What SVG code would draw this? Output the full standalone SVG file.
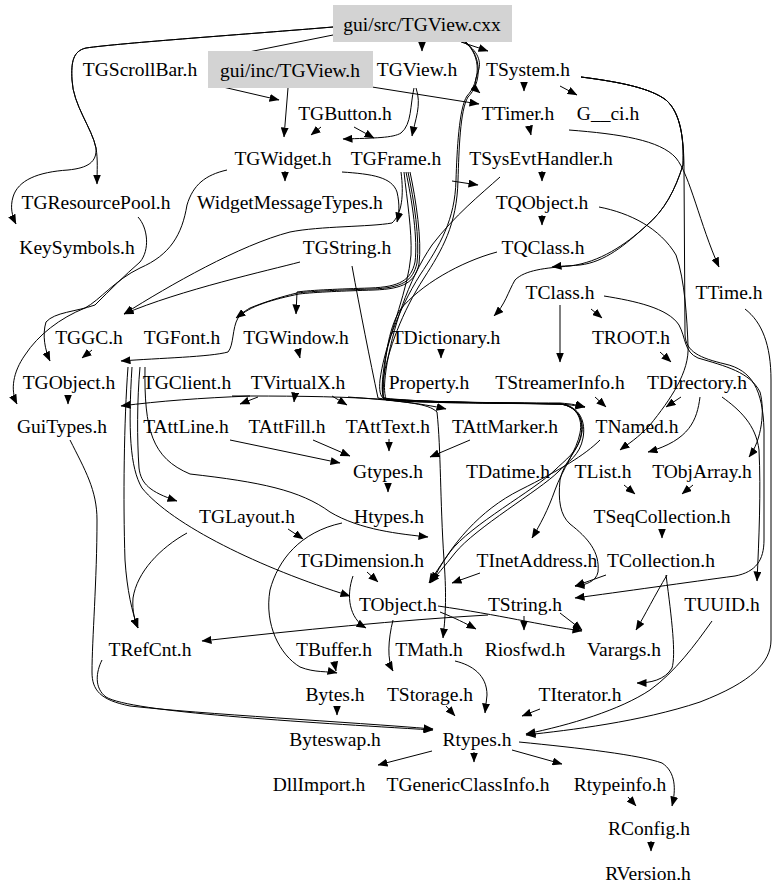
<svg xmlns="http://www.w3.org/2000/svg" width="779" height="895" viewBox="0 0 779 895">
<style>
text{font-family:"Liberation Serif","Times New Roman",serif;font-size:19.5px;fill:#000;text-anchor:middle}
.e path{fill:none;stroke:#000;stroke-width:1;marker-end:url(#ah)}
.box{fill:#d3d3d3;stroke:none}
</style>
<defs>
<marker id="ah" markerWidth="10" markerHeight="8" refX="9.5" refY="4" orient="auto" markerUnits="userSpaceOnUse"><path d="M0,0 L10,4 L0,8 z" fill="#000"/></marker>
</defs>
<rect width="779" height="895" fill="#fff"/>
<g class="e" id="edges">
<path d="M333,27 C250,34 120,43 86,48 C73,51 71,62 72,80 C73,105 92,128 96,148 C98,160 97,170 97,184"/>
<path d="M333,27 C250,34 120,43 86,48 C73,51 71,62 72,80 C73,105 92,128 96,148 C97,162 88,168 68,170 C38,172 18,180 13,197 C10,207 12,216 16,224"/>
<path d="M333,35 L209,60"/>
<path d="M422,42 L422,51"/>
<path d="M461,42 L488,51"/>
<path d="M463,42 C478,50 482,62 478,72 C474,82 474,88 480,93"/>
<path d="M465,42 C482,56 480,82 467,96 C459,108 457,150 456,180 C455,220 440,245 420,275 C398,310 384,350 380,380 C379,390 380,396 384,399 C405,403 428,403 437,412 C441,450 440,500 444,560 C447,600 445,620 443,638"/>
<path d="M466,42 C483,58 481,84 468,97 C460,110 459,150 458,180 C457,225 442,250 424,278 C402,312 388,350 383,380 C382,390 382,396 386,400 C420,403 470,403 520,403 L560,404 C576,406 584,418 582,432 C580,450 563,462 560,480 C558,500 560,515 570,524 C588,538 600,552 598,572 C596,582 585,585 575,586"/>
<path d="M210,84 L279,100"/>
<path d="M288,88 L284,137"/>
<path d="M372,87 L479,104"/>
<path d="M321,127 L311,135"/>
<path d="M354,127 L374,138"/>
<path d="M414,88 C410,105 412,124 401,133 C393,138 375,138 343,139"/>
<path d="M416,88 C422,105 415,120 412,136"/>
<path d="M524,82 L524,91"/>
<path d="M560,86 L577,95"/>
<path d="M529,126 L531,135"/>
<path d="M569,130 C620,134 660,140 676,158 C690,175 700,225 719,267"/>
<path d="M542,171 L542,181"/>
<path d="M542,215 L542,225"/>
<path d="M285,171 L285,181"/>
<path d="M452,181 L478,185"/>
<path d="M342,172 C372,174 392,177 397,192 C400,205 399,214 397,222"/>
<path d="M581,77 C620,82 650,88 666,100 C681,113 684,140 684,170 L685,335 C686,352 700,358 725,364 C752,370 763,390 764,430 L764,540 C764,560 756,572 735,576 C690,582 620,592 575,598"/>
<path d="M581,77 C620,82 650,88 666,100 C681,113 684,140 683,165 C675,190 665,210 646,226 C625,245 605,262 580,265 C568,266 560,266 552,267"/>
<path d="M581,77 C620,82 650,88 666,100 C681,113 684,140 683,165 C675,190 665,210 646,226 C625,245 600,262 570,266 C545,268 525,270 515,280 C508,292 505,305 494,316"/>
<path d="M599,207 C630,213 660,228 676,255 C685,280 687,320 688,345 C690,372 670,400 650,425 C638,438 628,444 620,450"/>
<path d="M604,296 C635,301 668,308 679,325 C686,338 684,352 698,358 C725,366 750,372 760,392 C765,410 762,440 749,457"/>
<path d="M591,309 L602,318"/>
<path d="M560,305 L560,362"/>
<path d="M660,352 L671,362"/>
<path d="M595,397 L606,407"/>
<path d="M681,397 L666,407"/>
<path d="M700,397 C697,420 690,440 648,452"/>
<path d="M722,397 C740,410 756,425 759,450 C761,490 759,540 757,581"/>
<path d="M745,309 C762,322 771,345 771,380 L771,640 C771,662 752,682 700,702 C640,722 570,730 526,735"/>
<path d="M441,350 L441,358"/>
<path d="M300,262 C270,270 180,290 124,314"/>
<path d="M401,172 C404,195 402,214 392,223 C370,227 320,226 290,232 C240,245 170,285 124,314"/>
<path d="M406,172 C412,200 418,240 415,262 C411,280 400,287 370,288 C340,289 312,290 297,292 L296,314"/>
<path d="M408,172 C414,200 420,240 417,263 C413,281 402,288 372,289 C342,290 314,291 297,293 C280,297 262,303 250,308 C243,312 240,315 236,318"/>
<path d="M410,172 C416,200 422,240 419,264 C415,282 404,289 374,290 C344,291 316,292 299,294 C275,299 248,306 238,318 C232,328 234,345 228,352 C210,357 160,358 121,361"/>
<path d="M92,350 L82,358"/>
<path d="M298,350 L300,358"/>
<path d="M138,217 C148,228 150,250 140,262 C125,275 110,290 95,305 C75,312 55,312 46,322 C42,335 45,350 50,361"/>
<path d="M227,170 C205,175 193,185 187,205 C182,235 170,255 140,268 C115,280 100,300 85,308 C60,318 38,335 25,355 C13,372 10,390 17,404"/>
<path d="M68,395 L68,404"/>
<path d="M250,396 C200,398 160,401 121,406"/>
<path d="M258,397 L240,404"/>
<path d="M295,394 L294,402"/>
<path d="M332,396 L347,405"/>
<path d="M348,397 C390,400 420,403 446,409"/>
<path d="M232,396 C280,396 330,396 378,399 C420,402 500,403 560,403 C572,404 578,405 585,407"/>
<path d="M352,266 C360,310 370,360 378,398 C400,403 470,403 560,404 C578,406 584,420 581,435 C578,452 565,460 555,470 C535,490 470,525 450,552 C440,566 434,575 429,583"/>
<path d="M497,252 C460,262 420,285 400,310 C388,330 384,360 383,398 C420,402 480,403 560,404 C576,406 583,418 580,433 C577,450 562,470 555,490 C548,510 540,525 532,538"/>
<path d="M500,177 C480,195 455,215 432,245 C408,280 392,330 386,370 C384,385 384,392 386,399 C430,402 500,403 560,404 C572,405 578,406 585,407"/>
<path d="M404,172 C407,200 412,230 411,255 C408,290 390,330 385,360 C382,380 381,392 384,399 C440,403 520,403 562,404 C580,407 586,422 583,438 C580,455 568,462 558,472 C540,490 475,528 455,553 C444,567 436,576 430,583"/>
<path d="M140,367 C137,400 137,440 139,468 C141,484 150,492 177,501"/>
<path d="M128,367 C124,420 123,500 125,560 C127,590 132,612 138,628"/>
<path d="M132,367 C128,430 130,468 142,488 C172,525 260,568 350,596"/>
<path d="M145,367 C144,430 152,458 190,474 C260,482 300,490 330,512 C360,530 400,534 428,537"/>
<path d="M288,529 L303,539"/>
<path d="M187,533 C160,548 137,572 133,598 C132,612 135,621 138,628"/>
<path d="M70,440 C85,470 97,490 97,520 C97,580 92,640 92,672 C92,690 100,700 130,706 C200,714 350,722 433,729"/>
<path d="M102,660 C96,672 94,688 106,697 C130,712 300,722 433,730"/>
<path d="M488,615 C400,620 300,630 202,641"/>
<path d="M388,483 L388,492"/>
<path d="M230,440 L340,463"/>
<path d="M313,440 L350,456"/>
<path d="M389,439 L389,451"/>
<path d="M470,440 L430,457"/>
<path d="M342,523 C300,532 278,560 270,590 C264,625 280,655 300,667 C315,673 328,671 337,673"/>
<path d="M367,572 L378,582"/>
<path d="M353,576 C346,596 349,618 366,628"/>
<path d="M393,620 C388,640 387,660 393,671"/>
<path d="M438,606 C500,615 540,625 582,631"/>
<path d="M560,613 L582,630"/>
<path d="M524,616 L524,630"/>
<path d="M440,612 C455,618 465,623 476,629"/>
<path d="M334,661 L336,671"/>
<path d="M337,706 L337,715"/>
<path d="M446,706 L455,716"/>
<path d="M455,661 C472,665 487,675 487,695 L485,713"/>
<path d="M540,709 L522,716"/>
<path d="M432,751 L378,765"/>
<path d="M474,752 L474,762"/>
<path d="M512,750 L562,764"/>
<path d="M519,742 C580,748 640,755 662,763 C676,772 676,790 672,806"/>
<path d="M628,797 L636,806"/>
<path d="M651,841 L651,851"/>
<path d="M667,575 C655,595 645,615 636,630"/>
<path d="M666,575 C672,620 676,655 672,668 C665,680 650,683 637,683"/>
<path d="M606,575 L575,586"/>
<path d="M662,529 L662,538"/>
<path d="M624,485 L635,494"/>
<path d="M693,485 L682,494"/>
<path d="M712,621 C695,645 675,672 650,690 C620,710 570,725 526,734"/>
<path d="M600,440 C585,455 560,470 520,490 C480,510 450,545 432,582"/>
<path d="M480,573 L452,583"/>
</g>
<g id="n_cxx"><rect class="box" x="333" y="5" width="179" height="37"/><text x="422" y="31">gui/src/TGView.cxx</text></g>
<g id="n_TGScrollBar"><text x="140" y="76">TGScrollBar.h</text></g>
<g id="n_incTGView"><rect class="box" x="208" y="51" width="165" height="37"/><text x="290" y="77">gui/inc/TGView.h</text></g>
<g id="n_TGView"><text x="417" y="76">TGView.h</text></g>
<g id="n_TSystem"><text x="528" y="76">TSystem.h</text></g>
<g id="n_TGButton"><text x="345" y="120">TGButton.h</text></g>
<g id="n_TTimer"><text x="518" y="120">TTimer.h</text></g>
<g id="n_Gci"><text x="608" y="120">G__ci.h</text></g>
<g id="n_TGWidget"><text x="283" y="165">TGWidget.h</text></g>
<g id="n_TGFrame"><text x="396" y="165">TGFrame.h</text></g>
<g id="n_TSysEvtHandler"><text x="541" y="165">TSysEvtHandler.h</text></g>
<g id="n_TGResourcePool"><text x="96" y="209">TGResourcePool.h</text></g>
<g id="n_WidgetMessageTypes"><text x="290" y="209">WidgetMessageTypes.h</text></g>
<g id="n_TQObject"><text x="542" y="209">TQObject.h</text></g>
<g id="n_KeySymbols"><text x="77" y="254">KeySymbols.h</text></g>
<g id="n_TGString"><text x="347" y="254">TGString.h</text></g>
<g id="n_TQClass"><text x="543" y="254">TQClass.h</text></g>
<g id="n_TClass"><text x="560" y="299">TClass.h</text></g>
<g id="n_TTime"><text x="729" y="299">TTime.h</text></g>
<g id="n_TGGC"><text x="89" y="344">TGGC.h</text></g>
<g id="n_TGFont"><text x="182" y="344">TGFont.h</text></g>
<g id="n_TGWindow"><text x="296" y="344">TGWindow.h</text></g>
<g id="n_TDictionary"><text x="446" y="344">TDictionary.h</text></g>
<g id="n_TROOT"><text x="631" y="344">TROOT.h</text></g>
<g id="n_TGObject"><text x="69" y="389">TGObject.h</text></g>
<g id="n_TGClient"><text x="187" y="389">TGClient.h</text></g>
<g id="n_TVirtualX"><text x="298" y="389">TVirtualX.h</text></g>
<g id="n_Property"><text x="429" y="389">Property.h</text></g>
<g id="n_TStreamerInfo"><text x="560" y="389">TStreamerInfo.h</text></g>
<g id="n_TDirectory"><text x="697" y="389">TDirectory.h</text></g>
<g id="n_GuiTypes"><text x="62" y="433">GuiTypes.h</text></g>
<g id="n_TAttLine"><text x="186" y="433">TAttLine.h</text></g>
<g id="n_TAttFill"><text x="287" y="433">TAttFill.h</text></g>
<g id="n_TAttText"><text x="388" y="433">TAttText.h</text></g>
<g id="n_TAttMarker"><text x="505" y="433">TAttMarker.h</text></g>
<g id="n_TNamed"><text x="637" y="433">TNamed.h</text></g>
<g id="n_Gtypes"><text x="388" y="478">Gtypes.h</text></g>
<g id="n_TDatime"><text x="508" y="478">TDatime.h</text></g>
<g id="n_TList"><text x="603" y="478">TList.h</text></g>
<g id="n_TObjArray"><text x="702" y="478">TObjArray.h</text></g>
<g id="n_TGLayout"><text x="247" y="523">TGLayout.h</text></g>
<g id="n_Htypes"><text x="389" y="523">Htypes.h</text></g>
<g id="n_TSeqCollection"><text x="662" y="523">TSeqCollection.h</text></g>
<g id="n_TGDimension"><text x="361" y="567">TGDimension.h</text></g>
<g id="n_TInetAddress"><text x="537" y="567">TInetAddress.h</text></g>
<g id="n_TCollection"><text x="661" y="567">TCollection.h</text></g>
<g id="n_TObject"><text x="398" y="611">TObject.h</text></g>
<g id="n_TString"><text x="525" y="611">TString.h</text></g>
<g id="n_TUUID"><text x="722" y="611">TUUID.h</text></g>
<g id="n_TRefCnt"><text x="150" y="656">TRefCnt.h</text></g>
<g id="n_TBuffer"><text x="334" y="656">TBuffer.h</text></g>
<g id="n_TMath"><text x="429" y="656">TMath.h</text></g>
<g id="n_Riosfwd"><text x="525" y="656">Riosfwd.h</text></g>
<g id="n_Varargs"><text x="624" y="656">Varargs.h</text></g>
<g id="n_Bytes"><text x="335" y="701">Bytes.h</text></g>
<g id="n_TStorage"><text x="430" y="701">TStorage.h</text></g>
<g id="n_TIterator"><text x="580" y="701">TIterator.h</text></g>
<g id="n_Byteswap"><text x="335" y="746">Byteswap.h</text></g>
<g id="n_Rtypes"><text x="477" y="746">Rtypes.h</text></g>
<g id="n_DllImport"><text x="319" y="791">DllImport.h</text></g>
<g id="n_TGenericClassInfo"><text x="468" y="791">TGenericClassInfo.h</text></g>
<g id="n_Rtypeinfo"><text x="620" y="791">Rtypeinfo.h</text></g>
<g id="n_RConfig"><text x="649" y="835">RConfig.h</text></g>
<g id="n_RVersion"><text x="648" y="880">RVersion.h</text></g>
</svg>
